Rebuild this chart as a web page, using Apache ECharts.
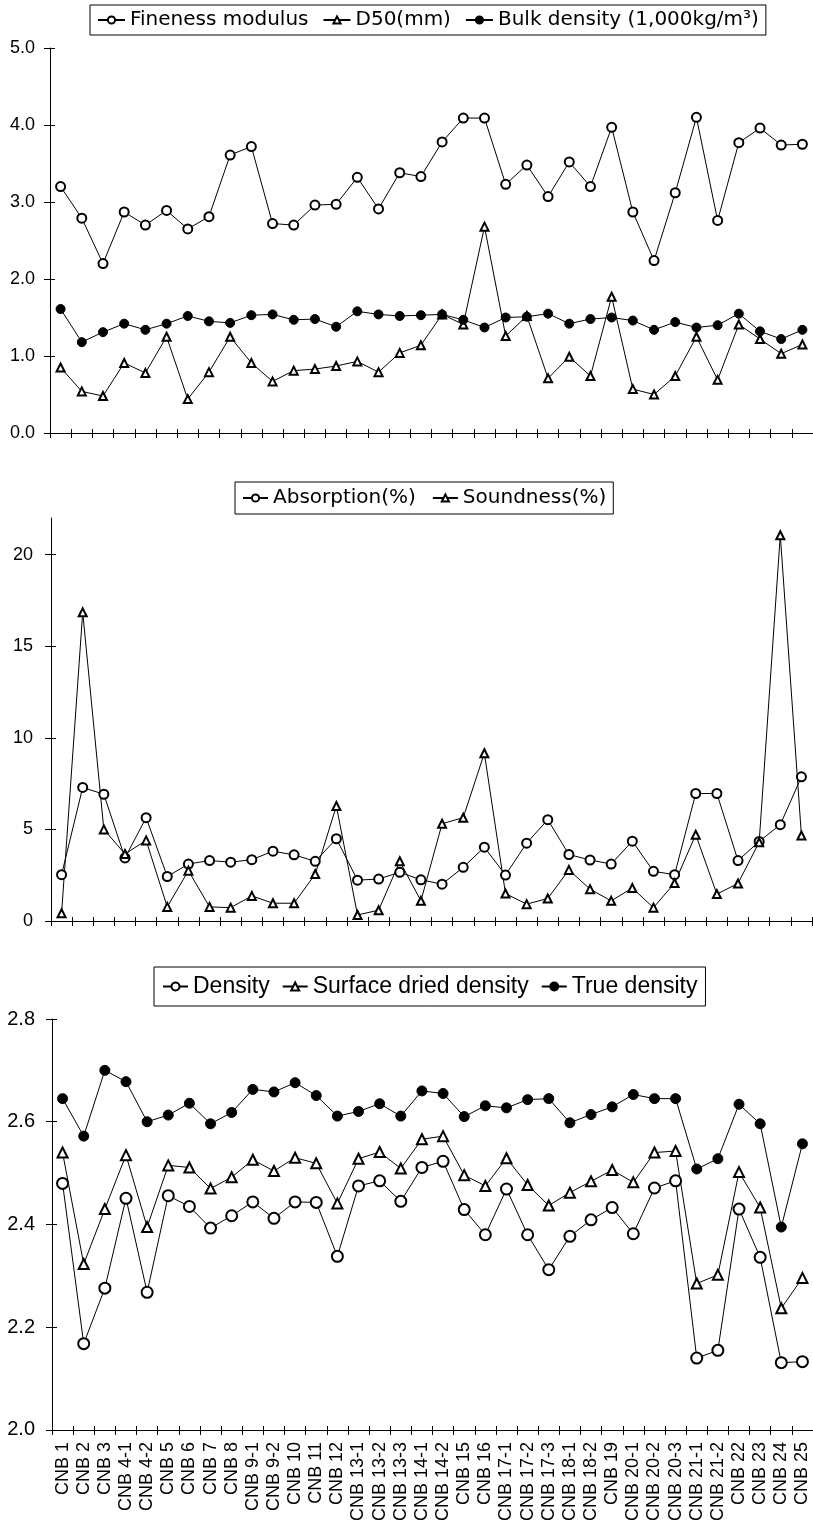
<!DOCTYPE html>
<html lang="en">
<head>
<meta charset="utf-8">
<title>CNB aggregate properties</title>
<script src="https://cdn.jsdelivr.net/npm/echarts@6/dist/echarts.min.js"></script>
<style>
  html, body { margin: 0; padding: 0; background: #fff; }
  #main { width: 813px; height: 1524px; }
</style>
</head>
<body>
<div id="main"></div>
<script type="text/javascript">
// sample names (x axis, shared by the three panels)
var categories = ['CNB 1', 'CNB 2', 'CNB 3', 'CNB 4-1', 'CNB 4-2', 'CNB 5', 'CNB 6', 'CNB 7', 'CNB 8',
  'CNB 9-1', 'CNB 9-2', 'CNB 10', 'CNB 11', 'CNB 12', 'CNB 13-1', 'CNB 13-2', 'CNB 13-3',
  'CNB 14-1', 'CNB 14-2', 'CNB 15', 'CNB 16', 'CNB 17-1', 'CNB 17-2', 'CNB 17-3', 'CNB 18-1',
  'CNB 18-2', 'CNB 19', 'CNB 20-1', 'CNB 20-2', 'CNB 20-3', 'CNB 21-1', 'CNB 21-2', 'CNB 22',
  'CNB 23', 'CNB 24', 'CNB 25'];

// panel 1
var fineness = [3.20, 2.79, 2.20, 2.87, 2.70, 2.89, 2.65, 2.81, 3.61, 3.72, 2.72, 2.70, 2.96, 2.97, 3.32, 2.91, 3.38, 3.33,
  3.78, 4.09, 4.09, 3.23, 3.48, 3.07, 3.52, 3.20, 3.97, 2.87, 2.24, 3.12, 4.10, 2.76, 3.77, 3.96, 3.74, 3.75];
var d50 = [0.85, 0.54, 0.48, 0.91, 0.78, 1.25, 0.44, 0.79, 1.25, 0.91, 0.67, 0.81, 0.83, 0.87, 0.93, 0.79, 1.04, 1.14,
  1.54, 1.41, 2.68, 1.26, 1.52, 0.71, 0.99, 0.74, 1.77, 0.57, 0.50, 0.74, 1.25, 0.69, 1.41, 1.22, 1.03, 1.15];
var bulkDensity = [1.61, 1.18, 1.31, 1.42, 1.34, 1.42, 1.52, 1.45, 1.43, 1.53, 1.54, 1.47, 1.48, 1.38, 1.58, 1.54, 1.52, 1.53,
  1.54, 1.47, 1.37, 1.50, 1.51, 1.55, 1.42, 1.48, 1.50, 1.46, 1.34, 1.44, 1.37, 1.40, 1.55, 1.32, 1.22, 1.34];

// panel 2
var absorption = [2.53, 7.29, 6.92, 3.44, 5.64, 2.43, 3.11, 3.30, 3.21, 3.35, 3.81, 3.61, 3.26, 4.49, 2.23, 2.29, 2.66, 2.25,
  2.01, 2.93, 4.03, 2.51, 4.25, 5.53, 3.63, 3.33, 3.11, 4.36, 2.71, 2.53, 6.96, 6.96, 3.30, 4.34, 5.26, 7.87];
var soundness = [0.42, 16.85, 5.00, 3.66, 4.40, 0.77, 2.75, 0.77, 0.73, 1.37, 0.97, 0.97, 2.56, 6.28, 0.33, 0.59, 3.26, 1.10,
  5.31, 5.64, 9.16, 1.50, 0.92, 1.23, 2.79, 1.74, 1.10, 1.80, 0.73, 2.07, 4.71, 1.47, 2.05, 4.30, 21.06, 4.67];

// panel 3
var density = [2.480, 2.168, 2.276, 2.451, 2.268, 2.456, 2.435, 2.393, 2.417, 2.444, 2.412, 2.444, 2.443, 2.338, 2.475, 2.485,
  2.445, 2.511, 2.523, 2.429, 2.380, 2.469, 2.380, 2.312, 2.377, 2.409, 2.433, 2.382, 2.471, 2.485, 2.140, 2.155,
  2.430, 2.336, 2.131, 2.133];
var surfaceDried = [2.540, 2.323, 2.430, 2.535, 2.395, 2.515, 2.511, 2.470, 2.492, 2.526, 2.504, 2.530, 2.519, 2.441, 2.528,
  2.541, 2.509, 2.566, 2.572, 2.496, 2.475, 2.529, 2.477, 2.437, 2.462, 2.484, 2.506, 2.482, 2.540, 2.543, 2.285,
  2.302, 2.502, 2.433, 2.237, 2.296];
var trueDensity = [2.645, 2.572, 2.700, 2.678, 2.600, 2.613, 2.636, 2.596, 2.618, 2.663, 2.658, 2.676, 2.651, 2.611, 2.620,
  2.635, 2.611, 2.660, 2.655, 2.610, 2.631, 2.627, 2.643, 2.645, 2.598, 2.614, 2.629, 2.653, 2.645, 2.645, 2.508,
  2.528, 2.634, 2.596, 2.395, 2.557];

// y tick values
var ticks1 = [0, 1, 2, 3, 4, 5];
var ticks2 = [0, 5, 10, 15, 20];
var ticks3 = [2.0, 2.2, 2.4, 2.6, 2.8];

var FONT = 'Liberation Sans';
var grids = [
  { left: 50, top: 48, width: 763, height: 385 },
  { left: 51, top: 518, width: 761, height: 403 },
  { left: 52, top: 1019, width: 766, height: 413 }
];

function xAxisFor(idx, withLabels) {
  return {
    type: 'category', gridIndex: idx, data: categories, boundaryGap: true,
    axisLine: { show: true, lineStyle: { color: '#000', width: 1 } },
    axisTick: { show: true, inside: false, length: 5, interval: 0, lineStyle: { color: '#000' } },
    axisLabel: withLabels ? {
      show: true, interval: 0, rotate: 90, margin: 12, color: '#000',
      fontFamily: FONT, fontSize: 18
    } : { show: false },
    splitLine: { show: false }
  };
}
// second axis on the same spot, only for the inner half of the tick marks
function xInnerFor(idx) {
  return {
    type: 'category', gridIndex: idx, data: categories, position: 'bottom', boundaryGap: true,
    axisLine: { show: false },
    axisTick: { show: true, inside: true, length: 4, interval: 0, lineStyle: { color: '#000' } },
    axisLabel: { show: false }, splitLine: { show: false }
  };
}
function yAxisFor(idx, min, max, tickVals, fmt, size, margin) {
  return {
    type: 'value', gridIndex: idx, min: min, max: max,
    axisLine: { show: true, lineStyle: { color: '#000', width: 1 } },
    axisTick: { show: true, inside: false, length: 6, customValues: tickVals, lineStyle: { color: '#000' } },
    axisLabel: { show: true, customValues: tickVals, formatter: fmt, color: '#000', fontFamily: FONT, fontSize: size, margin: margin },
    splitLine: { show: false }
  };
}
function yInnerFor(idx, min, max, tickVals) {
  return {
    type: 'value', gridIndex: idx, min: min, max: max, position: 'left',
    axisLine: { show: false },
    axisTick: { show: true, inside: true, length: 5, customValues: tickVals, lineStyle: { color: '#000' } },
    axisLabel: { show: false }, splitLine: { show: false }
  };
}
function oneDecimal(v) { return v.toFixed(1); }

function line(name, data, idx, symbol, size) {
  return {
    name: name, type: 'line', xAxisIndex: idx, yAxisIndex: idx, data: data,
    symbol: symbol, symbolSize: size, showSymbol: true,
    lineStyle: { color: '#000', width: 1 },
    itemStyle: { color: '#000', borderColor: '#000', borderWidth: 1 },
    emphasis: { disabled: true }
  };
}

var chart = echarts.init(document.getElementById('main'), null, { renderer: 'canvas' });
chart.setOption({
  animation: false,
  backgroundColor: '#fff',
  grid: grids,
  legend: [
    {
      data: ['Fineness modulus', 'D50(mm)', 'Bulk density (1,000kg/m\u00b3)'],
      left: 90, top: 5, padding: [5, 7], itemGap: 14, itemWidth: 27, itemHeight: 9,
      borderColor: '#000', borderWidth: 1, borderRadius: 0,
      textStyle: { color: '#000', fontFamily: 'DejaVu Sans', fontSize: 20 }
    },
    {
      data: ['Absorption(%)', 'Soundness(%)'],
      left: 235, top: 482, padding: [6, 7], itemGap: 16, itemWidth: 25, itemHeight: 9,
      borderColor: '#000', borderWidth: 1, borderRadius: 0,
      textStyle: { color: '#000', fontFamily: 'DejaVu Sans', fontSize: 20 }
    },
    {
      data: ['Density', 'Surface dried density', 'True density'],
      left: 154, top: 967, padding: [8, 8], itemGap: 12, itemWidth: 25, itemHeight: 10,
      borderColor: '#000', borderWidth: 1, borderRadius: 0,
      textStyle: { color: '#000', fontFamily: FONT, fontSize: 23 }
    }
  ],
  xAxis: [xAxisFor(0, false), xAxisFor(1, false), xAxisFor(2, true), xInnerFor(0), xInnerFor(1), xInnerFor(2)],
  yAxis: [
    yAxisFor(0, 0, 5, ticks1, oneDecimal, 18, 15),
    yAxisFor(1, 0, 22, ticks2, null, 18, 18),
    yAxisFor(2, 2.0, 2.8, ticks3, oneDecimal, 20, 17),
    yInnerFor(0, 0, 5, ticks1),
    yInnerFor(1, 0, 22, ticks2),
    yInnerFor(2, 2.0, 2.8, ticks3)
  ],
  series: [
    line('Fineness modulus', fineness, 0, 'emptyCircle', 9),
    line('D50(mm)', d50, 0, 'emptyTriangle', 8),
    line('Bulk density (1,000kg/m\u00b3)', bulkDensity, 0, 'circle', 9),
    line('Absorption(%)', absorption, 1, 'emptyCircle', 9),
    line('Soundness(%)', soundness, 1, 'emptyTriangle', 8),
    line('Density', density, 2, 'emptyCircle', 11),
    line('Surface dried density', surfaceDried, 2, 'emptyTriangle', 10),
    line('True density', trueDensity, 2, 'circle', 10)
  ]
});
</script>
</body>
</html>
